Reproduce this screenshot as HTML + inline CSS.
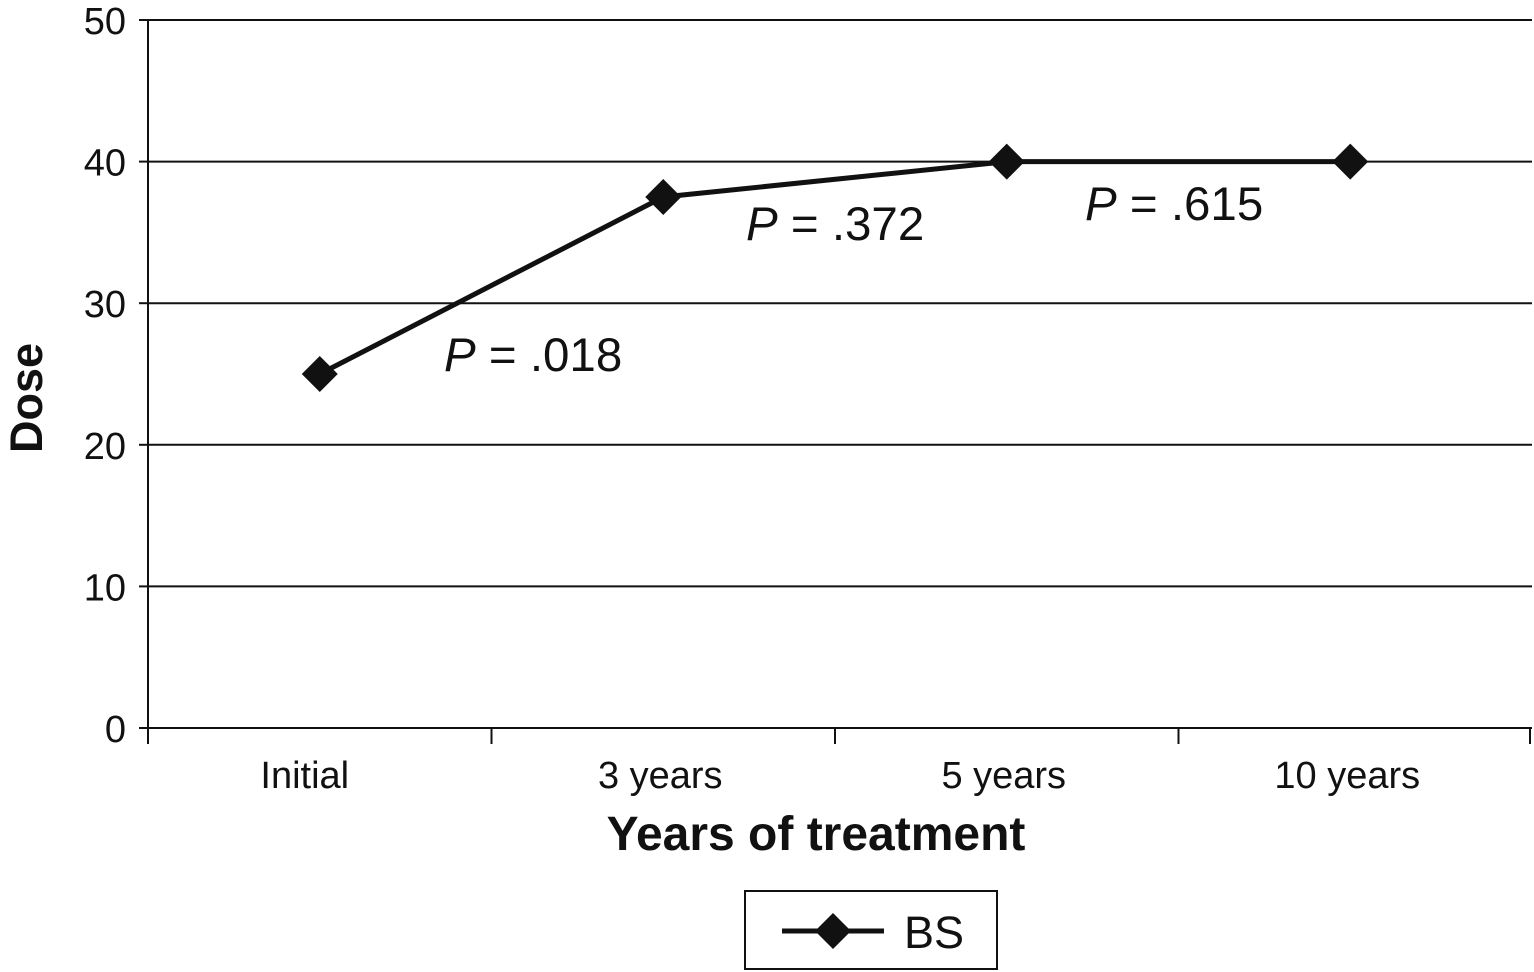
<!DOCTYPE html>
<html><head><meta charset="utf-8"><style>
html,body{margin:0;padding:0;background:#fff;}
svg{display:block;font-family:"Liberation Sans",Arial,sans-serif;}
</style></head><body>
<svg id="chart" width="1534" height="972" viewBox="0 0 1534 972">
<g id="grid"></g><g id="axes"></g><g id="series"></g><g id="labels"></g>
<text x="816" y="850" text-anchor="middle" font-size="48" font-weight="bold" fill="#111">Years of treatment</text>
<text transform="translate(42,398) rotate(-90)" text-anchor="middle" font-size="45" font-weight="bold" fill="#111">Dose</text>
<g>
<rect x="745" y="891" width="252" height="78" fill="#fff" stroke="#111" stroke-width="2"/>
<line x1="782" y1="931" x2="884" y2="931" stroke="#111" stroke-width="5"/>
<polygon points="833,913 851,931 833,949 815,931" fill="#111"/>
<text x="904" y="948" font-size="45" fill="#111">BS</text>
</g>
</svg>
<script>
const categories=["Initial","3 years","5 years","10 years"];
const doseValues=[25,37.5,40,40];
const yTicks=[0,10,20,30,40,50];
const pLabels=["P = .018","P = .372","P = .615"];
const NS="http://www.w3.org/2000/svg";
const plotLeft=148,plotRight=1532,plotTop=20,plotBottom=728,yMax=50,band=343.5;
function xScale(i){return plotLeft+band*(i+0.5);}
function yScale(v){return plotBottom-(v/yMax)*(plotBottom-plotTop);}
function mk(tag,attrs,parent){const e=document.createElementNS(NS,tag);for(const k in attrs)e.setAttribute(k,attrs[k]);document.getElementById(parent).appendChild(e);return e;}
yTicks.forEach(t=>{
 const y=yScale(t);
 if(t>0){const g=mk('line',{x1:plotLeft,x2:plotRight,y1:y,y2:y,stroke:'#111','stroke-width':2},'grid');
 
 }
 const tk=mk('line',{x1:plotLeft-9,x2:plotLeft,y1:y,y2:y,stroke:'#111','stroke-width':2},'axes');
 
 
 const tx=mk('text',{x:plotLeft-22,y:y+14,'text-anchor':'end','font-size':38,fill:'#111'},'axes');
 tx.textContent=t;
 
 
});
const ya=mk('line',{x1:plotLeft,x2:plotLeft,y1:plotTop,y2:plotBottom,stroke:'#111','stroke-width':2},'axes');


const xa=mk('line',{x1:plotLeft,x2:plotRight,y1:plotBottom,y2:plotBottom,stroke:'#111','stroke-width':2},'axes');


for(let i=0;i<=categories.length;i++){
 const x=i===categories.length?plotRight-2:plotLeft+band*i;
 const tk=mk('line',{x1:x,x2:x,y1:plotBottom,y2:plotBottom+16,stroke:'#111','stroke-width':2},'axes');
 
 
}
categories.forEach((c,i)=>{
 const t=mk('text',{x:xScale(i)-(i===0?15:3),y:788,'text-anchor':'middle','font-size':38,fill:'#111'},'axes');
 t.textContent=c;
 
 
});
const pts=doseValues.map((v,i)=>xScale(i)+','+yScale(v)).join(' ');
const pl=mk('polyline',{points:pts,fill:'none',stroke:'#111','stroke-width':5},'series');


doseValues.forEach((v,i)=>{
 const x=xScale(i),y=yScale(v),s=18;
 const m=mk('polygon',{points:`${x},${y-s} ${x+s},${y} ${x},${y+s} ${x-s},${y}`,fill:'#111'},'series');
 
 
});
const pX=[444,746,1085],pY=[371,240,220];
pLabels.forEach((p,i)=>{
 const t=mk('text',{x:pX[i],y:pY[i],'font-size':47.5,fill:'#111'},'labels');
 const a=document.createElementNS(NS,'tspan');
 a.setAttribute('font-style','italic');
 a.textContent=p.charAt(0);
 t.appendChild(a);
 const b=document.createElementNS(NS,'tspan');
 b.textContent=p.slice(1);
 t.appendChild(b);
 
 
});
</script>
</body></html>
